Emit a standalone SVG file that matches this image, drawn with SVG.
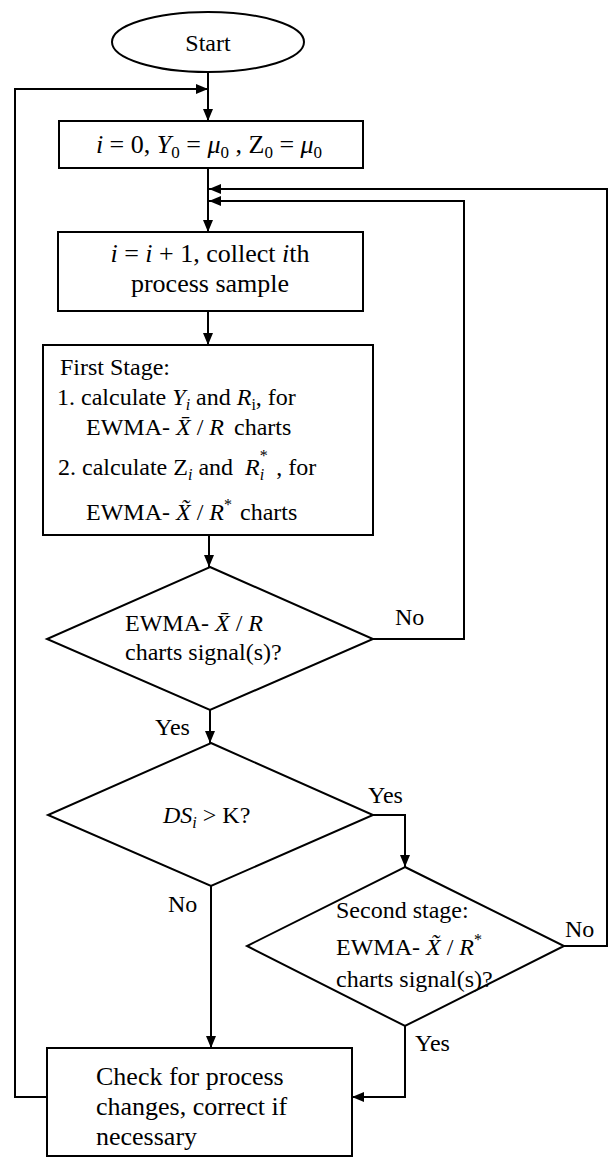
<svg xmlns="http://www.w3.org/2000/svg" width="610" height="1158" viewBox="0 0 610 1158">
<style>
.s{fill:#fff;stroke:#000;stroke-width:2}
.c{fill:none;stroke:#000;stroke-width:2}
text{font-family:"Liberation Serif","Times New Roman",serif;fill:#000}
.t24{font-size:24px}
.t26{font-size:26px}
.i{font-style:italic}
</style>
<defs>
<marker id="ah" viewBox="0 0 12 10" refX="12" refY="5" markerWidth="12" markerHeight="10" markerUnits="userSpaceOnUse" orient="auto"><path d="M0,0 L12,5 L0,10 z" fill="#000"/></marker>
</defs>
<rect x="0" y="0" width="610" height="1158" fill="#fff"/>

<g id="connectors">
<path class="c" d="M208,72 V121" marker-end="url(#ah)"/>
<path class="c" d="M47,1097 H15 V89 H208" marker-end="url(#ah)"/>
<path class="c" d="M208,168 V232" marker-end="url(#ah)"/>
<path class="c" d="M564,946 H607 V189 H209" marker-end="url(#ah)"/>
<path class="c" d="M373,639 H464 V201 H209" marker-end="url(#ah)"/>
<path class="c" d="M208,311 V345" marker-end="url(#ah)"/>
<path class="c" d="M209,535 V567" marker-end="url(#ah)"/>
<path class="c" d="M210,710 V743" marker-end="url(#ah)"/>
<path class="c" d="M373,815 H405 V867" marker-end="url(#ah)"/>
<path class="c" d="M211,886 V1048" marker-end="url(#ah)"/>
<path class="c" d="M405,1026 V1097 H352" marker-end="url(#ah)"/>
<text class="t24" x="395" y="625">No</text>
<text class="t24" x="155" y="735">Yes</text>
<text class="t24" x="368" y="803">Yes</text>
<text class="t24" x="168" y="912">No</text>
<text class="t24" x="565" y="937">No</text>
<text class="t24" x="415" y="1051">Yes</text>
</g>

<g id="start">
<ellipse class="s" cx="208" cy="42" rx="96" ry="30"/>
<text class="t24" x="208" y="51" text-anchor="middle">Start</text>
</g>

<g id="init">
<rect class="s" x="59" y="121" width="304" height="47"/>
<text class="t26" x="209" y="153" text-anchor="middle"><tspan class="i">i</tspan> = 0, <tspan class="i">Y</tspan><tspan font-size="17" dy="5">0</tspan><tspan dy="-5"> = </tspan><tspan class="i">μ</tspan><tspan font-size="17" dy="5">0</tspan><tspan dy="-5"> , Z</tspan><tspan font-size="17" dy="5">0</tspan><tspan dy="-5"> = </tspan><tspan class="i">μ</tspan><tspan font-size="17" dy="5">0</tspan></text>
</g>

<g id="collect">
<rect class="s" x="58" y="232" width="305" height="79"/>
<text class="t26" x="210" y="262" text-anchor="middle"><tspan class="i">i</tspan> = <tspan class="i">i</tspan> + 1, collect <tspan class="i">i</tspan>th</text>
<text class="t26" x="210" y="292" text-anchor="middle">process sample</text>
</g>

<g id="first-stage">
<rect class="s" x="43" y="345" width="330" height="190"/>
<text class="t24" x="60" y="375">First Stage:</text>
<text class="t24" x="57" y="405">1. calculate <tspan class="i">Y</tspan><tspan class="i" font-size="16" dy="5">i</tspan><tspan dy="-5"> and </tspan><tspan class="i">R</tspan><tspan font-size="16" dy="5">i</tspan><tspan dy="-5">, for</tspan></text>
<text class="t24" x="86" y="435">EWMA- <tspan class="i">X&#x304;</tspan> / <tspan class="i">R</tspan><tspan dx="10">charts</tspan></text>
<text class="t24" x="58" y="475">2. calculate Z<tspan class="i" font-size="16" dy="5">i</tspan><tspan dy="-5"> and </tspan><tspan class="i" dx="6">R</tspan><tspan font-size="16" dy="-14">*</tspan><tspan class="i" font-size="16" dx="-8" dy="19">i</tspan><tspan dy="-5" dx="6"> , for</tspan></text>
<text class="t24" x="86" y="520">EWMA- <tspan class="i">X&#x303;</tspan> / <tspan class="i">R</tspan><tspan font-size="16" dy="-10">*</tspan><tspan dy="10" dx="8">charts</tspan></text>
</g>

<g id="decision1">
<polygon class="s" points="210,567 373,639 210,710 47,639"/>
<text class="t24" x="125" y="631">EWMA- <tspan class="i">X&#x304;</tspan> / <tspan class="i">R</tspan></text>
<text class="t24" x="125" y="660">charts signal(s)?</text>
</g>

<g id="decision-ds">
<polygon class="s" points="211,743 373,815 211,886 48,815"/>
<text class="t24" x="163" y="823"><tspan class="i">DS</tspan><tspan class="i" font-size="16" dy="5">i</tspan><tspan dy="-5"> &gt; K?</tspan></text>
</g>

<g id="second-stage">
<polygon class="s" points="405,867 564,946 405,1026 247,946"/>
<text class="t24" x="336" y="918">Second stage:</text>
<text class="t24" x="336" y="955">EWMA- <tspan class="i">X&#x303;</tspan> / <tspan class="i">R</tspan><tspan font-size="16" dy="-10">*</tspan></text>
<text class="t24" x="336" y="987">charts signal(s)?</text>
</g>

<g id="correct">
<rect class="s" x="47" y="1048" width="305" height="108"/>
<text class="t26" x="96" y="1085">Check for process</text>
<text class="t26" x="96" y="1115">changes, correct if</text>
<text class="t26" x="96" y="1145">necessary</text>
</g>
</svg>
